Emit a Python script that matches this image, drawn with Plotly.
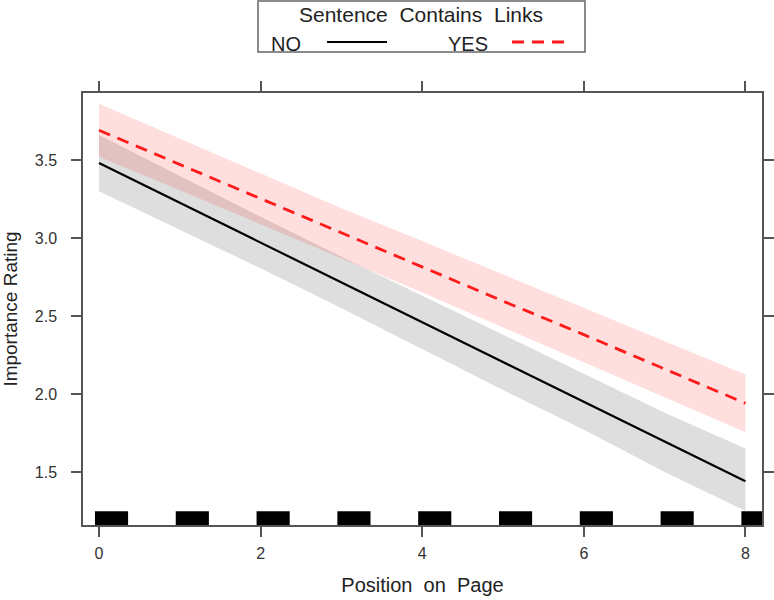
import plotly.graph_objects as go

# position on page (x) and fitted importance ratings with 95% bands
position = [0, 1, 2, 3, 4, 5, 6, 7, 8]

no_fit = [3.48, 3.225, 2.97, 2.715, 2.46, 2.20, 1.95, 1.69, 1.44]
no_lower = [3.30, 3.055, 2.805, 2.55, 2.29, 2.025, 1.77, 1.50, 1.25]
no_upper = [3.66, 3.395, 3.135, 2.88, 2.63, 2.375, 2.13, 1.88, 1.65]

yes_fit = [3.69, 3.47, 3.25, 3.03, 2.815, 2.595, 2.38, 2.16, 1.94]
yes_lower = [3.52, 3.305, 3.09, 2.87, 2.65, 2.425, 2.205, 1.98, 1.755]
yes_upper = [3.86, 3.635, 3.41, 3.19, 2.98, 2.765, 2.555, 2.34, 2.125]

# observed positions shown as the rug along the bottom
rug_pos = [0, 1, 2, 3, 4, 5, 6, 7, 8]

x_ticks = [0, 2, 4, 6, 8]
y_ticks = [1.5, 2.0, 2.5, 3.0, 3.5]

FONT = "Liberation Sans, Arial, sans-serif"
RED_DASH = "12px,8px"

fig = go.Figure()

# confidence bands
fig.add_trace(go.Scatter(x=position + position[::-1], y=no_upper + no_lower[::-1],
                         mode="lines", fill="toself", fillcolor="rgba(0,0,0,0.13)",
                         line=dict(width=0), hoverinfo="skip", showlegend=False))
fig.add_trace(go.Scatter(x=position + position[::-1], y=yes_upper + yes_lower[::-1],
                         mode="lines", fill="toself", fillcolor="rgba(255,0,0,0.13)",
                         line=dict(width=0), hoverinfo="skip", showlegend=False))

# fitted lines
fig.add_trace(go.Scatter(x=position, y=no_fit, mode="lines", name="NO",
                         line=dict(color="black", width=2.2), showlegend=False))
fig.add_trace(go.Scatter(x=position, y=yes_fit, mode="lines", name="YES",
                         line=dict(color="#ff1a1a", width=2.8, dash=RED_DASH),
                         showlegend=False))

# rug
for p in rug_pos:
    fig.add_shape(type="rect", xref="x", yref="y domain",
                  x0=p - 0.05, x1=p + 0.36, y0=0, y1=0.032,
                  fillcolor="black", line_width=0, layer="above")

# hand-drawn key at the top (text left, sample right, like lattice)
fig.add_shape(type="rect", xref="paper", yref="paper",
              x0=0.2577, x1=0.7393, y0=1.095, y1=1.213,
              line=dict(color="#666666", width=1.5), fillcolor="white")
fig.add_annotation(xref="paper", yref="paper", x=0.4978, y=1.181,
                   xanchor="center", yanchor="middle",
                   text="Sentence\u00a0\u00a0Contains\u00a0\u00a0Links", showarrow=False,
                   font=dict(family=FONT, size=21, color="#222222"))
fig.add_annotation(xref="paper", yref="paper", x=0.299, y=1.113,
                   xanchor="center", yanchor="middle",
                   text="NO", showarrow=False,
                   font=dict(family=FONT, size=20, color="#222222"))
fig.add_annotation(xref="paper", yref="paper", x=0.567, y=1.113,
                   xanchor="center", yanchor="middle",
                   text="YES", showarrow=False,
                   font=dict(family=FONT, size=20, color="#222222"))
fig.add_shape(type="line", xref="paper", yref="paper",
              x0=0.3594, x1=0.4477, y0=1.118, y1=1.118,
              line=dict(color="black", width=2.2))
fig.add_shape(type="line", xref="paper", yref="paper",
              x0=0.6318, x1=0.7143, y0=1.118, y1=1.118,
              line=dict(color="#ff1a1a", width=2.8, dash=RED_DASH))

axis_style = dict(showline=True, linecolor="#555555", linewidth=1.5, mirror="ticks",
                  ticks="outside", ticklen=10, tickwidth=1.5, tickcolor="#555555",
                  showgrid=False, zeroline=False, automargin=False,
                  tickfont=dict(family=FONT, size=16, color="#333333"))

fig.update_xaxes(range=[-0.198, 8.205], tickvals=x_ticks, ticklabelstandoff=3,
                 title=dict(text="Position\u00a0\u00a0on\u00a0\u00a0Page",
                            font=dict(family=FONT, size=20, color="#222222"), standoff=17),
                 **axis_style)
fig.update_yaxes(range=[1.16, 3.929], tickvals=y_ticks, tickformat=".1f",
                 ticklabelstandoff=11,
                 title=dict(text="Importance Rating",
                            font=dict(family=FONT, size=19, color="#222222"), standoff=14),
                 **axis_style)

fig.update_layout(width=774, height=600,
                  margin=dict(l=83, r=12, t=93, b=75),
                  plot_bgcolor="white", paper_bgcolor="white",
                  showlegend=False)

# drop the browser's default body margin so the figure sits at the page corner
fig.write_html("out.html", config={"displayModeBar": False},
               post_script="document.body.style.margin = '0px';")
